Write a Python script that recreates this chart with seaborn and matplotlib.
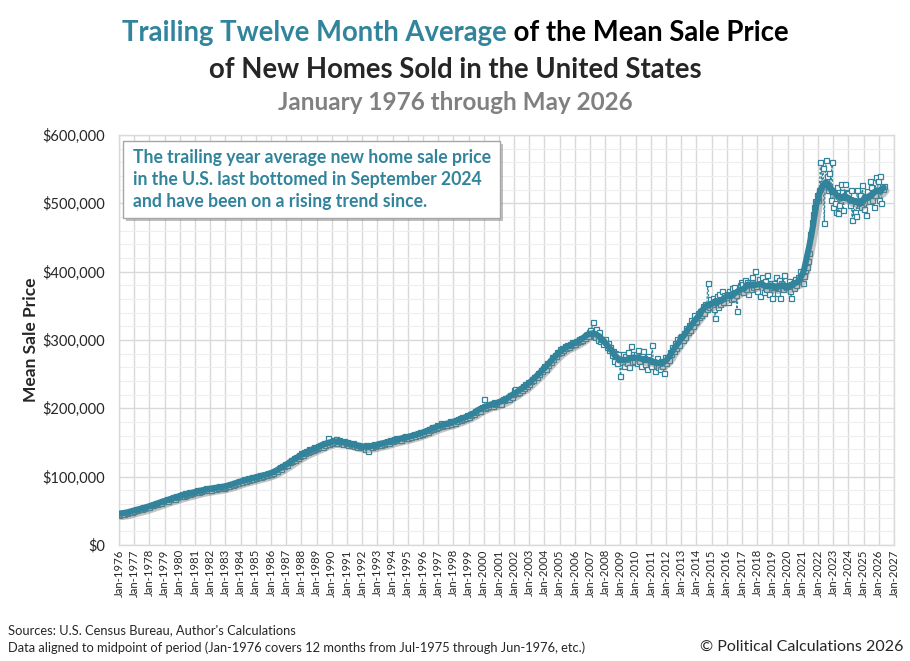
#!/usr/bin/env python3

from matplotlib import pyplot as plt
import matplotlib.dates as mdates
import matplotlib.patheffects as pe
from matplotlib.patches import Rectangle
from matplotlib.ticker import FuncFormatter, MultipleLocator
import numpy as np
import pandas as pd
import seaborn as sns

# Monthly mean sale price of new homes, $ thousands, plotted months
# Jan-1976 through May-2026
price_1970s = [
    44, 46, 45, 47, 46, 48, 47, 49, 48, 50, 49, 51,
    50, 52, 51, 53, 52, 54, 53, 55, 54, 56, 55, 57,
    56, 58, 59, 58, 60, 61, 60, 62, 63, 62, 64, 65,
    64, 66, 67, 65, 68, 67, 69, 70, 68, 71, 70, 72,
]
price_1980s = [
    73, 71, 74, 72, 76, 73, 75, 77, 74, 77, 76, 78,
    77, 79, 80, 78, 81, 79, 80, 82, 80, 83, 81, 83,
    83, 81, 84, 83, 85, 82, 84, 86, 83, 85, 87, 84,
    85, 87, 88, 86, 89, 90, 88, 91, 90, 92, 91, 94,
    94, 92, 95, 97, 94, 96, 98, 95, 97, 99, 97, 100,
    98, 101, 99, 102, 100, 103, 101, 104, 102, 103, 105, 104,
    104, 107, 106, 109, 110, 108, 112, 114, 111, 116, 115, 118,
    119, 117, 122, 121, 124, 123, 127, 125, 129, 128, 132, 130,
    134, 132, 136, 135, 138, 136, 140, 137, 141, 139, 143, 141,
    142, 145, 144, 147, 146, 144, 149, 147, 150, 157, 148, 151,
]
price_1990s = [
    150, 153, 151, 155, 149, 152, 154, 149, 151, 148, 152, 150,
    151, 147, 149, 146, 148, 150, 145, 147, 144, 146, 143, 145,
    143, 145, 141, 146, 144, 138, 145, 147, 144, 148, 145, 147,
    146, 148, 149, 147, 150, 148, 151, 150, 152, 149, 153, 152,
    152, 155, 153, 156, 154, 157, 155, 154, 158, 156, 159, 157,
    157, 160, 159, 158, 161, 163, 160, 162, 164, 161, 165, 163,
    166, 164, 167, 169, 166, 170, 168, 172, 170, 173, 171, 175,
    173, 176, 178, 174, 177, 175, 179, 176, 178, 181, 177, 180,
    181, 179, 183, 181, 184, 186, 183, 187, 185, 188, 186, 190,
    188, 191, 190, 193, 192, 196, 194, 197, 199, 196, 200, 202,
]
price_2000s = [
    213, 200, 204, 202, 205, 203, 207, 204, 209, 206, 208, 210,
    208, 211, 207, 213, 212, 215, 213, 217, 214, 219, 216, 221,
    227, 228, 222, 226, 224, 229, 227, 232, 230, 235, 233, 238,
    236, 240, 243, 241, 246, 248, 246, 252, 250, 256, 254, 259,
    262, 258, 266, 264, 270, 268, 275, 272, 278, 276, 283, 281,
    287, 283, 289, 286, 291, 288, 293, 290, 294, 292, 297, 294,
    294, 298, 297, 301, 299, 303, 300, 305, 303, 308, 306, 312,
    314, 310, 327, 306, 304, 316, 300, 312, 298, 302, 294, 300,
    302, 290, 296, 285, 290, 278, 284, 270, 281, 266, 279, 272,
    248, 268, 280, 262, 276, 266, 283, 260, 291, 268, 279, 270,
]
price_2010s = [
    280, 266, 286, 270, 262, 278, 284, 265, 273, 258, 276, 268,
    262, 292, 270, 255, 268, 273, 260, 257, 269, 262, 252, 275,
    266, 275, 271, 283, 279, 290, 284, 295, 289, 301, 293, 304,
    306, 300, 310, 305, 318, 311, 322, 315, 330, 321, 336, 326,
    328, 340, 334, 343, 337, 350, 339, 353, 345, 383, 348, 360,
    350, 362, 345, 332, 365, 348, 368, 352, 372, 356, 366, 361,
    368, 355, 372, 360, 376, 362, 378, 366, 342, 372, 380, 385,
    382, 370, 388, 375, 385, 368, 381, 374, 392, 377, 401, 376,
    372, 389, 365, 384, 392, 370, 386, 375, 395, 368, 383, 377,
    361, 384, 378, 392, 369, 388, 362, 383, 374, 395, 381, 377,
]
price_2020s = [
    378, 386, 372, 361, 384, 376, 389, 381, 392, 387, 401, 396,
    384, 393, 402, 407, 416, 428, 455, 472, 485, 495, 503, 512,
    505, 520, 560, 530, 552, 471, 563, 540, 520, 544, 505, 560,
    494, 500, 488, 524, 486, 498, 529, 516, 490, 528, 515, 516,
    515, 498, 520, 476, 505, 488, 482, 520, 498, 512, 495, 527,
    492, 509, 483, 518, 503, 533, 524, 505, 495, 512, 538, 532,
    505, 540, 501, 521, 525,
]

TEAL = "#31849B"
W, H = 910, 661


def fig_xy(x, y):
    """Pixel position (from top left) to figure fraction."""
    return x / W, 1 - y / H


def main():
    prices = np.array(
        price_1970s + price_1980s + price_1990s
        + price_2000s + price_2010s + price_2020s
    ) * 1000.0
    months = pd.date_range("1976-01-01", periods=len(prices), freq="MS")
    df = pd.DataFrame({"month": months, "price": prices})
    # trailing twelve month average, aligned to midpoint of period
    df["ttm"] = df["price"].rolling(12, center=True, min_periods=1).mean()

    sns.set_theme(style="white")
    plt.rcParams["font.family"] = ["Lato", "DejaVu Sans"]

    fig = plt.figure(figsize=(W / 100, H / 100), dpi=100)
    ax = fig.add_axes([119 / W, 1 - 545 / H, 775 / W, 410 / H])

    # monthly values: hollow squares joined by a dashed line
    sns.lineplot(
            data=df, x="month", y="price", ax=ax, color=TEAL, lw=0.9,
            linestyle=(0, (2, 1.5)), marker="s", markersize=3.6,
            markerfacecolor="white", markeredgecolor=TEAL,
            markeredgewidth=0.9, zorder=3,
            )
    # trailing twelve month average on top, with a soft shadow
    g = sns.lineplot(
            data=df, x="month", y="ttm", ax=ax, color=TEAL, lw=4.4,
            solid_capstyle="round", zorder=4,
            )
    g.lines[-1].set_path_effects([
        pe.SimpleLineShadow(offset=(2, -2.5), shadow_color="#7f7f7f", alpha=0.45),
        pe.Normal(),
        ])

    ax.set_xlim(pd.Timestamp("1976-01-01"), pd.Timestamp("2027-01-01"))
    ax.set_ylim(0, 600000)
    ax.xaxis.set_major_locator(mdates.YearLocator(1))
    ax.xaxis.set_major_formatter(mdates.DateFormatter("Jan-%Y"))
    ax.yaxis.set_major_locator(MultipleLocator(100000))
    ax.yaxis.set_minor_locator(MultipleLocator(20000))
    ax.yaxis.set_major_formatter(FuncFormatter(lambda v, p: f"${v:,.0f}"))

    ax.grid(which="major", axis="both", color="#D9D9D9", lw=1.0, zorder=0)
    ax.grid(which="minor", axis="y", color="#EEEEEE", lw=0.8, zorder=0)
    ax.set_axisbelow(True)
    for s in ax.spines.values():
        s.set_color("#D9D9D9")
        s.set_linewidth(1.0)

    ax.tick_params(axis="x", labelrotation=90, labelsize=8.2, length=0,
                   pad=3, labelcolor="#262626")
    ax.tick_params(axis="y", labelsize=10.5, length=0, pad=10,
                   labelcolor="#262626")
    ax.tick_params(which="minor", length=0)
    ax.set_xlabel("")
    ax.set_ylabel("")

    # annotation box
    box = Rectangle(fig_xy(123, 218), 377 / W, 77 / H,
                    transform=fig.transFigure, facecolor="white",
                    edgecolor="#A6A6A6", lw=1.0, zorder=5)
    box.set_path_effects([
        pe.withSimplePatchShadow(offset=(2.5, -2.5), shadow_rgbFace="#808080",
                                 alpha=0.5),
        ])
    fig.add_artist(box)
    note_lines = [
        "The trailing year average new home sale price",
        "in the U.S. last bottomed in September 2024",
        "and have been on a rising trend since.",
    ]
    for i, line in enumerate(note_lines):
        fig.text(*fig_xy(133, 158 + 22 * i), line, color=TEAL,
                 fontsize=12.7, fontweight="bold", va="center", ha="left",
                 zorder=6)

    # title, first part in teal
    renderer = fig.canvas.get_renderer()
    t1 = fig.text(0, 0, "Trailing Twelve Month Average", color=TEAL,
                  fontsize=19.8, fontweight="bold", va="center")
    t2 = fig.text(0, 0, " of the Mean Sale Price", color="black",
                  fontsize=19.8, fontweight="bold", va="center")
    w1 = t1.get_window_extent(renderer).width
    w2 = t2.get_window_extent(renderer).width
    x0 = (W - w1 - w2) / 2
    t1.set_position(fig_xy(x0, 33))
    t2.set_position(fig_xy(x0 + w1, 33))
    fig.text(*fig_xy(W / 2, 70), "of New Homes Sold in the United States",
             fontsize=19.8, fontweight="bold", ha="center", va="center")
    fig.text(*fig_xy(W / 2, 103), "January 1976 through May 2026",
             fontsize=17.5, fontweight="bold", color="#808080",
             ha="center", va="center")

    fig.text(*fig_xy(31, 340), "Mean Sale Price", rotation=90,
             fontsize=12.5, fontweight="bold", ha="center", va="center")

    fig.text(*fig_xy(8, 630), "Sources: U.S. Census Bureau, Author's Calculations",
             fontsize=9.3, ha="left", va="center")
    fig.text(*fig_xy(8, 648),
             "Data aligned to midpoint of period (Jan-1976 covers 12 months "
             "from Jul-1975 through Jun-1976, etc.)",
             fontsize=9.3, ha="left", va="center")
    fig.text(*fig_xy(903, 647), "\u00a9 Political Calculations 2026",
             fontsize=11.5, ha="right", va="center")

    plt.savefig("out.png", dpi=100)


if __name__ == "__main__":
    main()
